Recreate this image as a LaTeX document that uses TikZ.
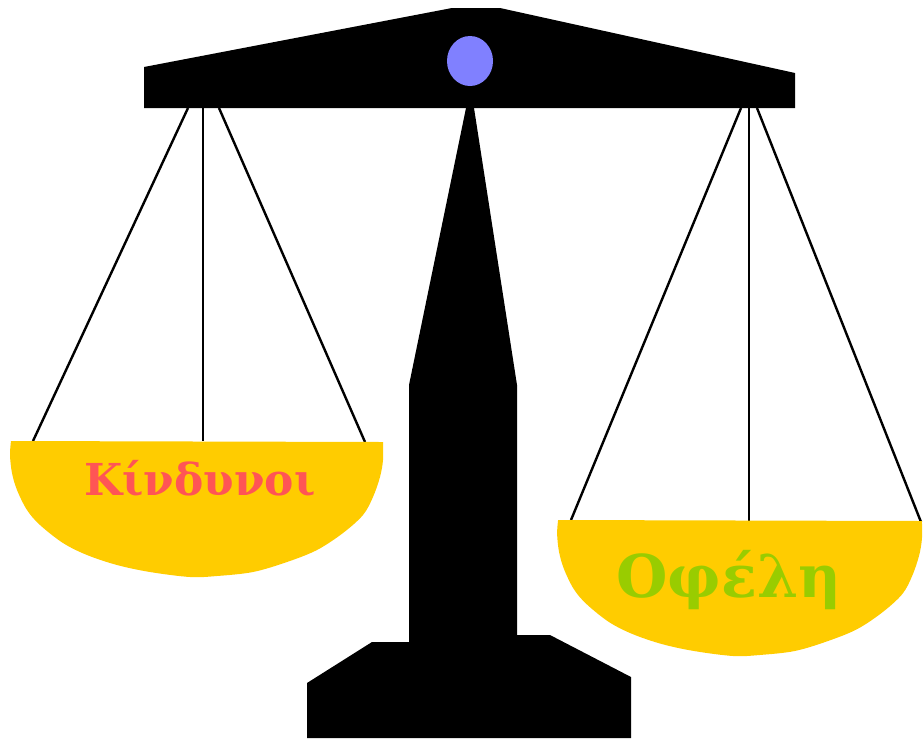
\documentclass[tikz,border=0pt]{standalone}
\usepackage{fontspec}
\newfontfamily\panfont{DejaVu Serif}
\definecolor{panyellow}{RGB}{255,204,0}
\definecolor{riskred}{RGB}{255,85,85}
\definecolor{gaingreen}{RGB}{153,204,0}
\definecolor{pivotblue}{RGB}{128,128,255}
\tikzset{
  cord/.style={draw=black,line width=2.4pt},
  pantext/.style={anchor=base,inner sep=0pt}
}
% bowl of a pan, measured from the middle of its rim
\newcommand{\panbowl}{(-186,0) -- plot[smooth,tension=0.55] coordinates {(186,1) (186,19) (183,36)
  (176,56) (166,74) (146,92) (120,109) (90,121) (56,131) (20,135) (-7,136) (-47,131) (-80,124)
  (-110,114) (-134,102) (-157,84) (-170,69) (-180,49) (-185,32) (-187,14) (-186,0)} -- cycle}

\begin{document}
\begin{tikzpicture}[x=1pt,y=-1pt]
\useasboundingbox (0,0) rectangle (923,740);
% hooks under the beam and rims of the pans
\coordinate (la) at (188,108); \coordinate (lb) at (203,108); \coordinate (lc) at (219,108);
\coordinate (ra) at (741,108); \coordinate (rb) at (749,108); \coordinate (rc) at (757,108);
\coordinate (lpa) at (33,441); \coordinate (lpb) at (203,441); \coordinate (lpc) at (365,442);
\coordinate (rpa) at (571,520); \coordinate (rpb) at (749,521); \coordinate (rpc) at (921,522);
\draw[cord] (la) -- (lpa); \draw[cord] (lb) -- (lpb); \draw[cord] (lc) -- (lpc);
\draw[cord] (ra) -- (rpa); \draw[cord] (rb) -- (rpb); \draw[cord] (rc) -- (rpc);
% beam with pivot
\fill[black] (144,108) -- (144,67) -- (452,8) -- (500,8) -- (795,73) -- (795,108) -- cycle;
\fill[pivotblue] (470,61) ellipse [x radius=23, y radius=25];
% column and foot
\fill[black] (307,738) -- (307,683) -- (372,642) -- (409,642) -- (409,385) -- (466,108)
  -- (474,108) -- (517,385) -- (517,635) -- (550,635) -- (631,677) -- (631,738) -- cycle;
% pans
\begin{scope}[shift={(197,441)}]
  \fill[panyellow] \panbowl;
\end{scope}
\begin{scope}[shift={(740,520)},xscale=0.978]
  \fill[panyellow] \panbowl;
\end{scope}
\node[pantext,text=riskred,font=\panfont\bfseries\fontsize{44}{44}\selectfont] (risk) at (200,495) {Κίνδυνοι};
\node[pantext,text=gaingreen,font=\panfont\bfseries\fontsize{59}{59}\selectfont] (gain) at (729,597) {Οφέλη};
\end{tikzpicture}
\end{document}
